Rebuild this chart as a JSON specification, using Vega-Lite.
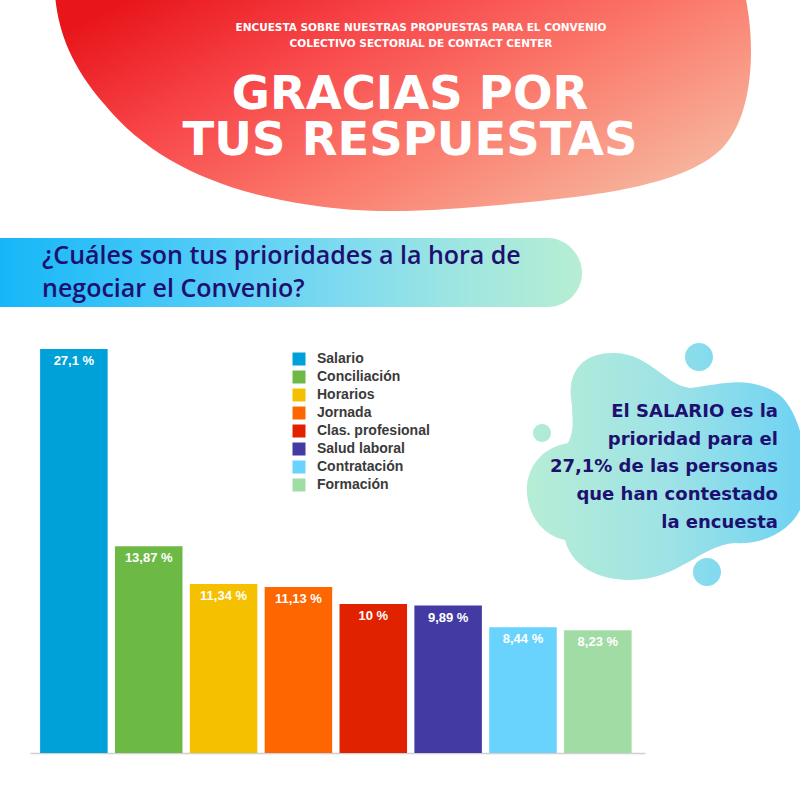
{
  "$schema": "https://vega.github.io/schema/vega-lite/v6.json",
  "autosize": {"type": "none"},
  "padding": {"left": 30, "top": 349, "right": 155, "bottom": 47},
  "width": 615,
  "height": 404,
  "background": "#ffffff",
  "config": {"view": {"stroke": null}},
  "data": {"values": [
    {"cat": "Salario", "value": 27.1, "label": "27,1 %"},
    {"cat": "Conciliación", "value": 13.87, "label": "13,87 %"},
    {"cat": "Horarios", "value": 11.34, "label": "11,34 %"},
    {"cat": "Jornada", "value": 11.13, "label": "11,13 %"},
    {"cat": "Clas. profesional", "value": 10, "label": "10 %"},
    {"cat": "Salud laboral", "value": 9.89, "label": "9,89 %"},
    {"cat": "Contratación", "value": 8.44, "label": "8,44 %"},
    {"cat": "Formación", "value": 8.23, "label": "8,23 %"}
  ]},
  "layer": [
    {
      "data": {"values": [{}]},
      "mark": {"type": "point", "filled": true, "opacity": 1, "size": 4, "strokeWidth": 0,
        "shape": "M-282.5,-556 L407.5,-556 C417.5,-511 417.5,-441 387.5,-406 C352.5,-366 262.5,-356 182.5,-348 C102.5,-341 42.5,-335 -27.5,-346 C-117.5,-359 -187.5,-391 -232.5,-446 C-267.5,-486 -279.5,-521 -282.5,-556 Z",
        "fill": {"gradient": "linear", "x1": 0, "y1": 0.2, "x2": 1, "y2": 0.8, "stops": [
          {"offset": 0, "color": "#e8161b"}, {"offset": 0.3, "color": "#f8474a"},
          {"offset": 0.6, "color": "#fb7a6c"}, {"offset": 1, "color": "#f6bca3"}]}},
      "encoding": {}
    },
    {
      "data": {"values": [{}]},
      "mark": {"type": "point", "filled": true, "opacity": 1, "size": 4, "strokeWidth": 0,
        "shape": "M-342.5,-313 L210.5,-313 C228.5,-313 244.5,-297 244.5,-278 C244.5,-259 228.5,-244 210.5,-244 L-342.5,-244 Z",
        "fill": {"gradient": "linear", "x1": 0, "y1": 0, "x2": 1, "y2": 0, "stops": [
          {"offset": 0, "color": "#14b6f8"}, {"offset": 0.35, "color": "#4fcbf7"},
          {"offset": 0.6, "color": "#80dbef"}, {"offset": 0.8, "color": "#a0e6e0"}, {"offset": 1, "color": "#b6eed3"}]}},
      "encoding": {}
    },
    {
      "data": {"values": [{}]},
      "mark": {"type": "point", "filled": true, "opacity": 1, "size": 4, "strokeWidth": 0,
        "shape": "M234.5,-146 C227.5,-181 247.5,-199 277.5,-198 C312.5,-197 327.5,-166 352.5,-163 C382.5,-166 407.5,-176 437.5,-159 C462.5,-146 477.5,-81 462.5,-41 C452.5,-21 427.5,-6 397.5,-8 C362.5,-6 342.5,29 292.5,29 C252.5,29 232.5,9 227.5,-11 C202.5,-16 187.5,-41 189.5,-66 C192.5,-89 207.5,-104 230.5,-108 C237.5,-121 234.5,-133 234.5,-146 Z",
        "fill": {"gradient": "linear", "x1": 0, "y1": 0, "x2": 1, "y2": 0, "stops": [
          {"offset": 0, "color": "#b6edd5"}, {"offset": 0.5, "color": "#9fe3e6"}, {"offset": 1, "color": "#6dd2f3"}]}},
      "encoding": {}
    },
    {
      "data": {"values": [{}]},
      "mark": {"type": "point", "filled": true, "opacity": 1, "size": 4, "strokeWidth": 0,
        "shape": "M347.5,-194 a14,14 0 1,0 28,0 a14,14 0 1,0 -28,0 Z M195.5,-118 a9,9 0 1,0 18,0 a9,9 0 1,0 -18,0 Z M355.5,21 a14,14 0 1,0 28,0 a14,14 0 1,0 -28,0 Z",
        "fill": {"gradient": "linear", "x1": 0, "y1": 0, "x2": 1, "y2": 0, "stops": [
          {"offset": 0, "color": "#b3ead8"}, {"offset": 1, "color": "#82daef"}]}},
      "encoding": {}
    },
    {
      "data": {"values": [{}]},
      "mark": {"type": "text", "text": ["ENCUESTA SOBRE NUESTRAS PROPUESTAS PARA EL CONVENIO", "COLECTIVO SECTORIAL DE CONTACT CENTER"],
        "font": "DejaVu Sans", "fontWeight": "bold", "fontSize": 10.5, "lineHeight": 16.6,
        "color": "#ffffff", "align": "center", "baseline": "alphabetic", "dx": 83.5, "dy": -520.3},
      "encoding": {}
    },
    {
      "data": {"values": [{}]},
      "mark": {"type": "text", "text": ["GRACIAS POR", "TUS RESPUESTAS"],
        "font": "DejaVu Sans", "fontWeight": "bold", "fontSize": 46.5, "lineHeight": 46.5,
        "color": "#ffffff", "align": "center", "baseline": "alphabetic", "dx": 72.5, "dy": -442.5},
      "encoding": {}
    },
    {
      "data": {"values": [{}]},
      "mark": {"type": "text", "text": ["¿Cuáles son tus prioridades a la hora de", "negociar el Convenio?"],
        "font": "Open Sans", "fontWeight": 600, "fontSize": 25, "lineHeight": 32.5,
        "color": "#1e1070", "align": "left", "baseline": "alphabetic", "dx": -295.5, "dy": -287},
      "encoding": {}
    },
    {
      "data": {"values": [{}]},
      "mark": {"type": "text", "text": ["El SALARIO es la", "prioridad para el", "27,1% de las personas", "que han contestado", "la encuesta"],
        "font": "DejaVu Sans", "fontWeight": "bold", "fontSize": 18, "lineHeight": 27.7,
        "color": "#1e1070", "align": "right", "baseline": "alphabetic", "dx": 440.5, "dy": -134},
      "encoding": {}
    },
    {
      "mark": {"type": "bar"},
      "encoding": {
        "x": {"field": "cat", "type": "nominal", "sort": null,
          "scale": {"paddingInner": 0.098, "paddingOuter": 0.157, "align": 0.43},
          "axis": {"labels": false, "ticks": false, "title": null, "domainColor": "#d0d0d0", "domainWidth": 1.5}},
        "y": {"field": "value", "type": "quantitative", "scale": {"domain": [0, 27.1], "nice": false}, "axis": null},
        "color": {"field": "cat", "type": "nominal",
          "scale": {
            "domain": ["Salario", "Conciliación", "Horarios", "Jornada", "Clas. profesional", "Salud laboral", "Contratación", "Formación"],
            "range": ["#00a1d8", "#6db946", "#f5c000", "#fd6601", "#e12201", "#433aa3", "#6ad3fd", "#a1dca5"]},
          "legend": {"orient": "none", "legendX": 262, "legendY": 3, "title": null,
            "symbolType": "square", "symbolSize": 169, "symbolStrokeWidth": 0, "symbolOpacity": 1,
            "labelFont": "Liberation Sans", "labelFontSize": 14, "labelFontWeight": "bold", "labelColor": "#3a3a3a",
            "labelOffset": 11, "rowPadding": 4, "padding": 0, "labelLimit": 300}}
      }
    },
    {
      "mark": {"type": "text", "baseline": "top", "dy": 6, "color": "#ffffff", "font": "Liberation Sans", "fontWeight": "bold", "fontSize": 13},
      "encoding": {
        "x": {"field": "cat", "type": "nominal", "sort": null},
        "y": {"field": "value", "type": "quantitative"},
        "text": {"field": "label"}
      }
    }
  ]
}
